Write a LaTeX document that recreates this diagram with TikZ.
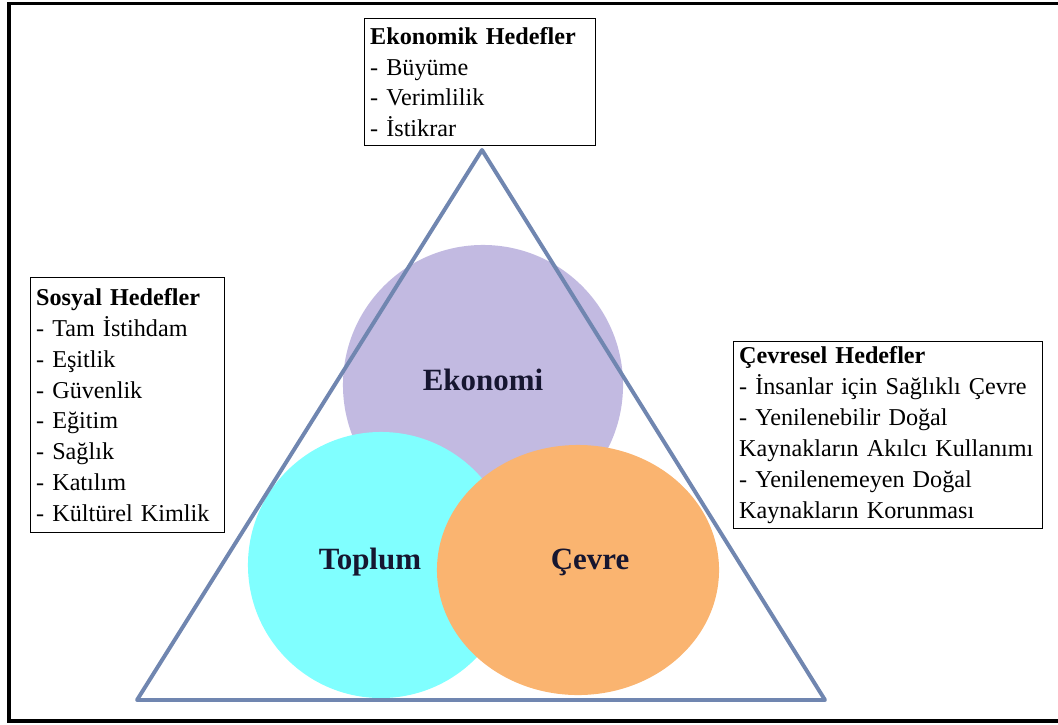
\documentclass[tikz,border=0pt]{standalone}
\usepackage{fontspec}
\setmainfont{Liberation Serif}
\usetikzlibrary{shapes.geometric, positioning}
\definecolor{lavender}{RGB}{194, 186, 225}
\definecolor{aqua}{RGB}{128, 255, 255}
\definecolor{peach}{RGB}{250, 180, 112}
\definecolor{steel}{RGB}{112, 134, 176}
\definecolor{ink}{RGB}{22, 22, 48}

\begin{document}
\begin{tikzpicture}[x=0.025cm, y=-0.025cm,
            goal/.style={draw=black, thick, fill=white, anchor=north west, align=left, inner xsep=4pt, inner ysep=2pt, font=\fontsize{17.2}{22}\selectfont},
            blob/.style={ellipse, draw=none, inner sep=0pt},
            lbl/.style={font=\fontsize{22}{26}\selectfont\bfseries, text=ink}
        ]
            \useasboundingbox (0,0) rectangle (1058,724);
            % Frame
            \draw[line width=2.8pt] (1058,3.5) -- (9,3.5) -- (9,721) -- (1058,721);

            % Circles
            \node[blob, fill=lavender, minimum width=7cm, minimum height=7cm] (eko) at (483,385) {};
            \node[blob, fill=aqua, minimum width=6.65cm, minimum height=6.65cm] (top) at (381,565) {};
            \node[blob, fill=peach, minimum width=7.05cm, minimum height=6.25cm] (cev) at (578,570) {};

            \node[lbl] (ekolbl) at (483,380) {Ekonomi};
            \node[lbl] (toplbl) at (370,562) {Toplum};
            \node[lbl] (cevlbl) at (590,562) {Çevre};

            % Triangle
            \coordinate (apex) at (482,150);
            \coordinate (bl) at (137,700);
            \coordinate (br) at (825,700);
            \draw[steel, line width=2.8pt, line join=round] (apex) -- (bl) -- (br) -- cycle;

            % Goals
            \node[goal, text width=5.78cm-8pt, minimum height=3.175cm] (ekogoal) at (364,18) {\textbf{Ekonomik Hedefler}\\- Büyüme\\- Verimlilik\\- İstikrar};
            \node[goal, text width=4.85cm-8pt, minimum height=6.375cm] (sosgoal) at (30,277) {\textbf{Sosyal Hedefler}\\- Tam İstihdam\\- Eşitlik\\- Güvenlik\\- Eğitim\\- Sağlık\\- Katılım\\- Kültürel Kimlik};
            \node[goal, text width=7.72cm-8pt, minimum height=4.675cm] (cevgoal) at (733,341) {\textbf{Çevresel Hedefler}\\- İnsanlar için Sağlıklı Çevre\\- Yenilenebilir Doğal\\Kaynakların Akılcı Kullanımı\\- Yenilenemeyen Doğal\\Kaynakların Korunması};

        \end{tikzpicture}
\end{document}
